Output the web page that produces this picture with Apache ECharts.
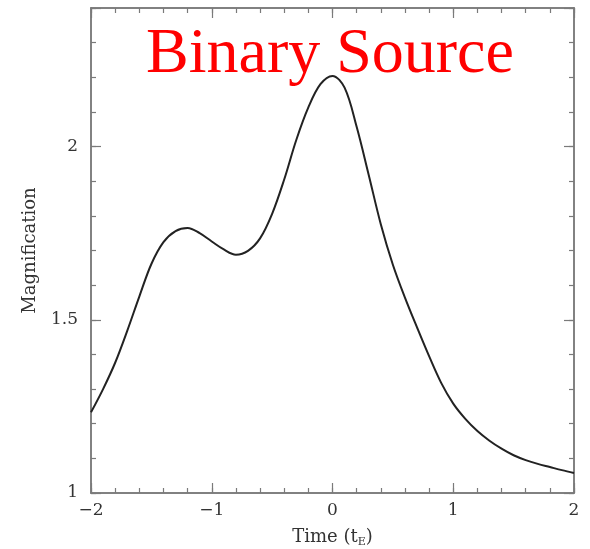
<!DOCTYPE html>
<html>
<head>
<meta charset="utf-8">
<script src="https://cdn.jsdelivr.net/npm/echarts@6/dist/echarts.min.js"></script>
<style>html,body{margin:0;padding:0;background:#fff;}#c{width:590px;height:549px;}</style>
</head>
<body>
<div id="c"></div>
<script>
var timeValues = [-2.0,-1.9,-1.8,-1.7,-1.6,-1.5,-1.4,-1.3,-1.2,-1.1,-1.0,-0.9,-0.8,-0.7,-0.6,-0.5,-0.4,-0.3,-0.2,-0.1,0.0,0.1,0.2,0.3,0.4,0.5,0.6,0.7,0.8,0.9,1.0,1.1,1.2,1.3,1.4,1.5,1.6,1.7,1.8,1.9,2.0];
var magnification = [1.233,1.300,1.376,1.468,1.567,1.661,1.724,1.756,1.765,1.750,1.726,1.703,1.688,1.699,1.735,1.806,1.905,2.019,2.113,2.180,2.204,2.170,2.057,1.918,1.776,1.659,1.564,1.478,1.395,1.318,1.258,1.214,1.179,1.151,1.128,1.109,1.095,1.084,1.075,1.066,1.058];
var xTickLabels = ['\u22122','\u22121','0','1','2'];
var yTickLabels = ['1','1.5','2'];

var axisColor = '#7a7a7a';
var labelFont = 'DejaVu Serif';
var chart = echarts.init(document.getElementById('c'));

function xAx(pos, interval, len, labels) {
  return {
    type: 'value', position: pos, min: -2, max: 2, interval: interval,
    axisLine: {show: true, onZero: false, lineStyle: {color: axisColor, width: 1.5}},
    axisTick: {show: true, inside: true, length: len, lineStyle: {color: axisColor, width: 1.2}},
    splitLine: {show: false},
    axisLabel: {show: labels, margin: 9, color: '#333', fontFamily: labelFont, fontSize: 17,
      formatter: function (v) { var i = Math.round(v) + 2; return Math.abs(v - Math.round(v)) < 1e-6 ? xTickLabels[i] : ''; }}
  };
}
function yAx(pos, interval, len, labels) {
  return {
    type: 'value', position: pos, min: 1, max: 2.4, interval: interval,
    axisLine: {show: true, onZero: false, lineStyle: {color: axisColor, width: 1.5}},
    axisTick: {show: true, inside: true, length: len, lineStyle: {color: axisColor, width: 1.2}},
    splitLine: {show: false},
    axisLabel: {show: labels, margin: 13, color: '#333', fontFamily: labelFont, fontSize: 17,
      formatter: function (v) { var k = Math.round(v * 2); return Math.abs(v * 2 - k) < 1e-6 && k <= 4 ? yTickLabels[k - 2] : ''; }}
  };
}

var xs = [xAx('bottom', 0.2, 5, true), xAx('bottom', 1, 10, false), xAx('top', 0.2, 5, false), xAx('top', 1, 10, false)];
xs[0].name = 'Time (t{s|E})';
xs[0].nameLocation = 'middle';
xs[0].nameGap = 33;
xs[0].nameTextStyle = {fontFamily: labelFont, fontSize: 18, color: '#333', rich: {s: {fontFamily: labelFont, fontSize: 11, color: '#333', verticalAlign: 'bottom', padding: [11, 0, 0, 0]}}};
var ys = [yAx('left', 0.1, 5, true), yAx('left', 0.5, 10, false), yAx('right', 0.1, 5, false), yAx('right', 0.5, 10, false)];
ys[0].name = 'Magnification';
ys[0].nameLocation = 'middle';
ys[0].nameGap = 52;
ys[0].nameTextStyle = {fontFamily: labelFont, fontSize: 18, color: '#333'};

var pts = timeValues.map(function (t, i) { return [t, magnification[i]]; });

chart.setOption({
  animation: false,
  backgroundColor: '#fff',
  title: {text: 'Binary Source', left: 146, top: 23, padding: 0,
    textStyle: {fontFamily: 'Liberation Serif', fontWeight: 'normal', fontSize: 64, color: '#ff0000', lineHeight: 64}},
  grid: {left: 91, right: 16, top: 8, bottom: 56, containLabel: false, outerBoundsMode: 'none'},
  xAxis: xs,
  yAxis: ys,
  series: [{type: 'line', xAxisIndex: 0, yAxisIndex: 0, data: pts, smooth: 0.35, showSymbol: false,
    lineStyle: {color: '#222', width: 2}}]
});
</script>
</body>
</html>
